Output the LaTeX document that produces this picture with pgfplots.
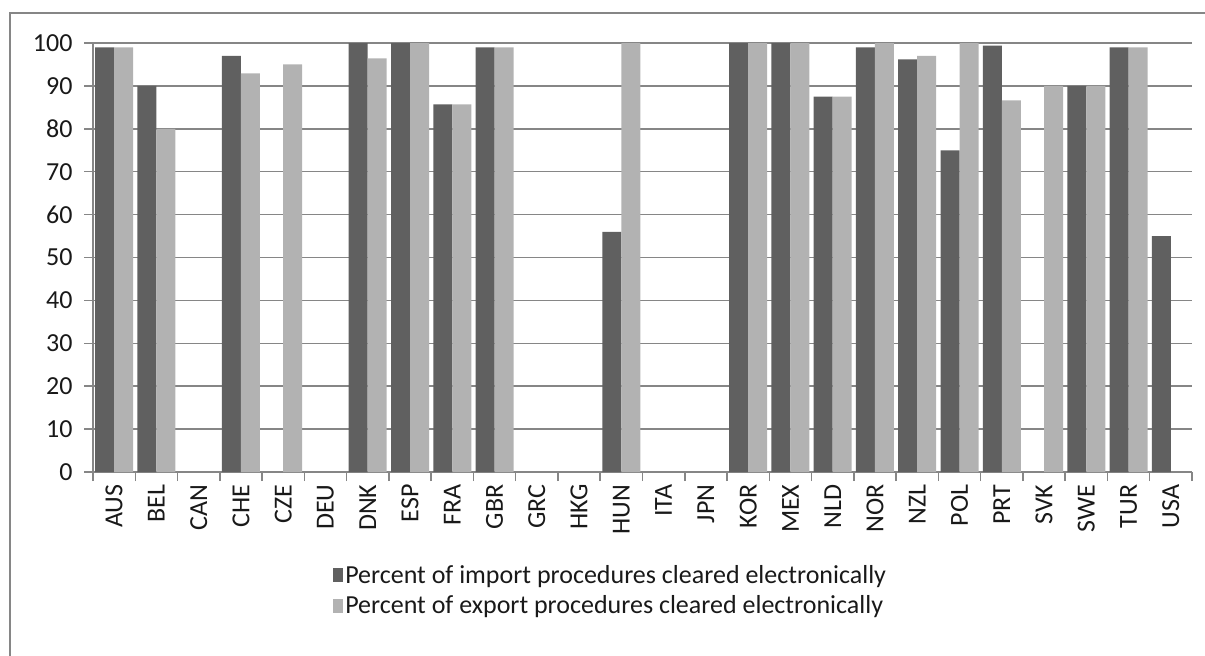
\documentclass[border=0pt]{standalone}
\usepackage{pgfplots}
\pgfplotsset{compat=1.18}
\usepackage{fontspec}
\setmainfont{Carlito}
\definecolor{darkbar}{RGB}{96,96,96}
\definecolor{lightbar}{RGB}{178,178,178}
\definecolor{gridc}{RGB}{134,134,134}
\definecolor{framec}{RGB}{134,134,134}
\pgfplotsset{/pgfplots/ybar legend/.style={/pgfplots/legend image code/.code={\fill[##1] (0pt,-7pt) rectangle (10pt,7pt);}}}
\begin{document}
\begin{tikzpicture}[x=1pt,y=1pt]
\useasboundingbox (0,0) rectangle (1205,-656);
\draw[framec, line width=2.5pt] (10,-720) -- (10,-13) -- (1230,-13);
\begin{axis}[
  at={(93pt,-472pt)}, anchor=south west,
  scale only axis, width=1099pt, height=429pt,
  ybar=0pt, bar width=19pt,
  xmin=-0.5, xmax=25.5, ymin=0, ymax=100,
  xtick={-0.5,0.5,...,25.5},
  x tick label as interval,
  xticklabels={AUS,BEL,CAN,CHE,CZE,DEU,DNK,ESP,FRA,GBR,GRC,HKG,HUN,ITA,JPN,KOR,MEX,NLD,NOR,NZL,POL,PRT,SVK,SWE,TUR,USA},
  ytick={0,10,...,100},
  axis x line*=bottom, axis y line*=left,
  axis line style={-, gridc, line width=1.5pt},
  tick style={gridc, line width=1.5pt},
  tick align=outside, major tick length=9pt,
  ymajorgrids, grid style={gridc, line width=1.5pt},
  /pgf/number format/assume math mode=true,
  tick label style={font=\fontsize{26}{30}\selectfont, black!90},
  xticklabel style={rotate=90, anchor=east},
  yticklabel style={xshift=-8pt},
  legend style={at={(0.2157,-0.2075)}, anchor=north west, draw=none, fill=none,
    font=\fontsize{26}{30}\selectfont, text=black!90, row sep=7pt, cells={anchor=west}},
]
\addplot[fill=darkbar, draw=none] coordinates {
 (0,99) (1,90) (3,97) (6,100) (7,100) (8,85.7) (9,99) (12,56)
 (15,100) (16,100) (17,87.5) (18,99) (19,96.2) (20,75) (21,99.4)
 (23,90) (24,99) (25,55)};
\addplot[fill=lightbar, draw=none] coordinates {
 (0,99) (1,80) (3,92.9) (4,95) (6,96.4) (7,100) (8,85.7) (9,99) (12,100)
 (15,100) (16,100) (17,87.5) (18,100) (19,97) (20,100) (21,86.6)
 (22,90) (23,90) (24,99)};
\legend{Percent of import procedures cleared electronically, Percent of export procedures cleared electronically}
\end{axis}
\end{tikzpicture}
\end{document}
